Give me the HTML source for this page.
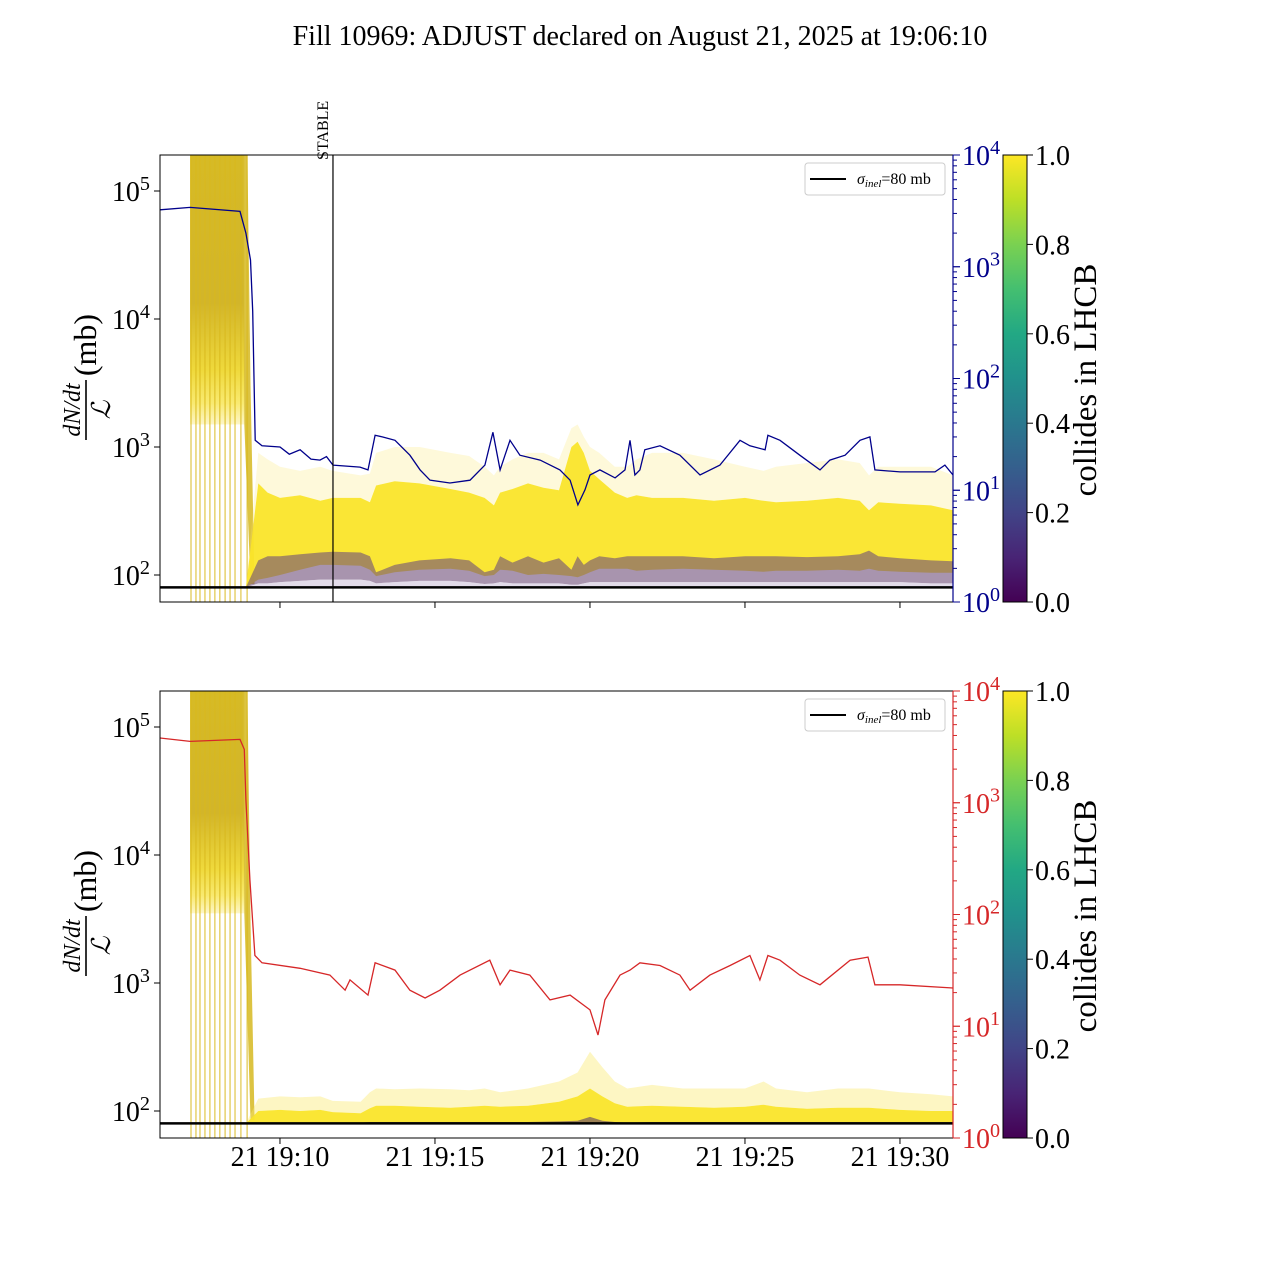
<!DOCTYPE html>
<html><head><meta charset="utf-8"><style>
html,body{margin:0;padding:0;background:#fff;}
svg{display:block;font-family:"Liberation Serif",serif;}
</style></head><body>
<svg id="fig" width="1280" height="1280" viewBox="0 0 1280 1280" xmlns="http://www.w3.org/2000/svg">
<defs>
<linearGradient id="viridis" x1="0" y1="1" x2="0" y2="0">
<stop offset="0" stop-color="#440154"/><stop offset="0.1" stop-color="#482475"/><stop offset="0.2" stop-color="#414487"/><stop offset="0.3" stop-color="#355f8d"/><stop offset="0.4" stop-color="#2a788e"/><stop offset="0.5" stop-color="#21918c"/><stop offset="0.6" stop-color="#22a884"/><stop offset="0.7" stop-color="#44bf70"/><stop offset="0.8" stop-color="#7ad151"/><stop offset="0.9" stop-color="#bddf26"/><stop offset="1" stop-color="#fde725"/>
</linearGradient>
<linearGradient id="preTop" x1="0" y1="0" x2="0" y2="1">
<stop offset="0" stop-color="#d6ba26"/><stop offset="0.55" stop-color="#d2b52a"/><stop offset="0.8" stop-color="#efd93c"/><stop offset="0.92" stop-color="#f9ea70"/><stop offset="1" stop-color="#fdf6c8"/>
</linearGradient>
<clipPath id="clipTop"><rect x="160" y="155" width="793" height="447"/></clipPath>
<clipPath id="clipBot"><rect x="160" y="691" width="793" height="447"/></clipPath>
</defs>
<text x="640" y="45" text-anchor="middle" font-size="28">Fill 10969: ADJUST declared on August 21, 2025 at 19:06:10</text>
</svg>
<script>
// ---- data (time in minutes after 19:00) ----
const xTickMinutes = [10, 15, 20, 25, 30];
const xTickLabels = ["21 19:10", "21 19:15", "21 19:20", "21 19:25", "21 19:30"];
const leftTickExps = [2, 3, 4, 5];
const rightTickExps = [0, 1, 2, 3, 4];
const cbarTicks = [0.0, 0.2, 0.4, 0.6, 0.8, 1.0];
const sigmaInel = 80;
const stableMinute = 11.71;
const fillLineMinutes = [7.13, 7.29, 7.42, 7.58, 7.74, 7.9, 8.06, 8.23, 8.39, 8.55, 8.74, 8.94];

const blueT = [6.13,7.1,8.71,8.9,9.05,9.12,9.2,9.42,10,10.3,10.65,11.0,11.29,11.5,11.71,12.58,12.84,13.07,13.3,13.71,14.19,14.52,14.84,15.48,16.13,16.61,16.87,17.1,17.26,17.42,17.74,18.39,19.03,19.36,19.61,19.84,20,20.32,20.81,21.13,21.29,21.45,21.61,21.77,22.26,22.9,23.55,24.19,24.84,25.16,25.65,25.74,26.13,26.77,27.42,27.74,28.23,28.71,29.03,29.19,30,31.13,31.45,31.71];
const blueV = [3230,3400,3130,2000,1150,400,28,25,24.4,21,23,19,18.6,20,16.8,16.1,15.2,31,30,28,20.6,15.2,12.3,11.6,12.3,16.8,33,15.2,20.6,28,20.6,18.6,15.2,12.3,7.4,10.1,13.7,15.2,12.9,15.2,28,13.7,15.2,23,25,20.6,13.7,16.8,28,25,23,31,28,20.6,15.2,18.6,20.6,28,30,15.2,14.6,14.6,16.8,13.7];

const redT = [6.13,7.1,8.71,8.85,8.9,9.03,9.19,9.42,10.65,11.61,12.1,12.26,12.84,13.07,13.71,14.19,14.68,15.16,15.81,16.77,17.1,17.42,18.06,18.71,19.36,20,20.26,20.48,20.97,21.29,21.61,22.26,22.9,23.23,23.87,24.52,25.16,25.48,25.74,26.13,26.77,27.42,28.39,28.97,29.19,30,31.71];
const redV = [3800,3540,3690,3000,1060,205,43,37,33,28.7,21,26,19,37,31.8,21,17.9,21,28.7,39,23.5,31.8,28.7,17.2,19,14,8.35,17.2,28.7,31.8,37,35,28.7,21,28.7,35,43,26,43,39,28.7,23.5,39,41.6,23.5,23.5,22];

// top panel band envelopes (mb)
const bandT    = [8.9,9.3,9.6,10.0,10.65,11.3,11.7,12.6,12.9,13.1,13.7,14.5,15.5,16.1,16.6,16.9,17.1,17.5,18.0,18.5,19.0,19.4,19.6,19.8,20.0,20.3,20.8,21.2,21.5,22.0,23.0,24.0,25.0,25.6,26.0,27.0,28.0,28.7,29.0,29.3,30.0,31.0,31.71];
const faintTop = [80,900,800,700,650,700,650,600,620,900,1000,1000,900,850,700,600,700,800,900,900,800,1400,1500,1200,1000,900,700,700,800,900,900,800,700,650,700,750,800,750,600,700,700,700,600];
const denseTop = [80,520,440,400,420,380,400,400,370,500,540,520,470,440,400,350,440,470,520,480,460,1000,1100,900,650,560,440,400,420,400,400,380,400,380,370,380,400,380,320,370,360,350,320];
const denseBot = [80,92,95,100,110,120,120,118,110,98,105,110,112,108,98,100,110,108,100,102,100,98,96,100,105,112,112,112,108,110,112,110,108,106,108,108,110,108,112,108,106,104,104];
const darkTop  = [80,130,140,140,145,150,152,150,140,105,120,130,135,130,105,110,140,125,140,125,135,110,140,120,130,140,135,140,140,140,140,135,140,140,140,138,140,145,155,140,135,130,128];
const darkBot  = [80,86,86,88,90,92,92,92,90,86,88,90,90,88,85,86,88,86,86,86,86,84,84,86,88,88,88,88,88,88,88,88,88,88,88,88,88,88,88,88,88,86,86];

// bottom panel band envelopes (mb)
const bBandT    = [8.9,9.3,10.0,10.65,11.3,11.7,12.6,12.9,13.1,13.7,14.5,15.5,16.1,16.6,17.1,18.0,19.0,19.6,20.0,20.4,20.8,21.2,22.0,23.0,24.0,25.0,25.6,26.0,27.0,28.0,29.0,30.0,31.0,31.71];
const bFaintTop = [80,125,130,128,130,120,118,140,150,148,150,148,145,150,140,150,170,200,290,220,170,150,160,150,150,150,170,150,140,150,150,140,135,130];
const bDenseTop = [80,100,102,100,102,98,96,105,110,110,108,106,108,110,108,110,118,130,150,130,115,108,110,108,106,108,112,108,104,106,106,102,100,100];
const bDarkTop  = [80,81,81,81,81,81,81,82,82,82,82,82,82,82,82,82,83,84,90,84,82,81,82,82,82,82,82,82,82,82,82,82,82,82];

// ---- scales ----
const X0 = 160, X1 = 953;
const xS = t => X0 + (t - 6.13) * 31.0;
function panel(top){
  const bot = top + 447;
  return {top, bot,
    yL: v => (top + 36) + (5 - Math.log10(v)) * 128,
    yR: v => bot - Math.log10(v) * 111.75};
}
const P1 = panel(155), P2 = panel(691);
const NS = "http://www.w3.org/2000/svg";
const svg = document.getElementById('fig');
function mk(tag, attrs, parent){
  const e = document.createElementNS(NS, tag);
  for (const k in attrs) e.setAttribute(k, attrs[k]);
  (parent || svg).appendChild(e);
  return e;
}
function bandPath(T, up, lo, yf){
  let d = '';
  T.forEach((t,i)=>{ d += (i? 'L':'M') + xS(t).toFixed(1) + ',' + yf(up[i]).toFixed(1); });
  for (let i = T.length-1; i >= 0; i--) d += 'L' + xS(T[i]).toFixed(1) + ',' + yf(lo[i]).toFixed(1);
  return d + 'Z';
}
function linePath(T, V, yf){
  return T.map((t,i)=>(i?'L':'M') + xS(t).toFixed(1) + ',' + yf(V[i]).toFixed(1)).join('');
}
function supNum(g, x, y, base, exp, size, color, anchor, name){
  const t = mk('text', {x, y, 'font-size': size, fill: color, 'text-anchor': anchor}, g);
  
  
  const a = document.createElementNS(NS,'tspan'); a.textContent = base; t.appendChild(a);
  const b = document.createElementNS(NS,'tspan'); b.setAttribute('dy', -size*0.4); b.setAttribute('font-size', size*0.72); b.textContent = exp; t.appendChild(b);
}

function drawPanel(P, idx, rightColor, rT, rV, isTop){
  const g = mk('g', {});
  
  
  const clip = mk('g', {'clip-path': isTop ? 'url(#clipTop)' : 'url(#clipBot)'}, g);
  // pre-adjust dense block
  const preBottom = isTop ? 1500 : 3500;
  const pre = mk('rect', {x: xS(7.10), y: P.top, width: xS(8.85)-xS(7.10), height: P.yL(preBottom)-P.top, fill: 'url(#preTop)'}, clip);
  
  
  const drop = mk('path', {d: 'M'+xS(8.8)+','+P.top+'L'+xS(8.95)+','+P.top+'L'+xS(9.05)+','+P.yL(3000)+'L'+xS(9.18)+','+P.yL(85)+'L'+xS(9.05)+','+P.yL(85)+'L'+xS(8.85)+','+P.yL(preBottom)+'Z', fill: '#d8bd2c', opacity: 0.9}, clip);
  
  
  fillLineMinutes.forEach((m,i)=>{
    const l = mk('line', {x1: xS(m), x2: xS(m), y1: P.top, y2: P.bot, stroke: '#d9b91c', 'stroke-width': 1.2, opacity: 0.8}, clip);
    
    
  });
  if (isTop){
    const f = mk('path', {d: bandPath(bandT, faintTop, denseTop, P.yL), fill: '#fbe86a', opacity: 0.25}, clip);
    
    
    const d = mk('path', {d: bandPath(bandT, denseTop, denseBot, P.yL), fill: '#fae52a', opacity: 0.95}, clip);
    
    
    const k = mk('path', {d: bandPath(bandT, darkTop, darkBot, P.yL), fill: '#6e4d78', opacity: 0.6}, clip);
    
    
    const w = mk('path', {d: bandPath(bandT, darkBot, bandT.map(()=>sigmaInel), P.yL), fill: '#cfc3da', opacity: 0.6}, clip);
    
    
  } else {
    const f = mk('path', {d: bandPath(bBandT, bFaintTop, bDenseTop, P.yL), fill: '#fbe86a', opacity: 0.4}, clip);
    
    
    const d = mk('path', {d: bandPath(bBandT, bDenseTop, bBandT.map(()=>sigmaInel), P.yL), fill: '#fae52a', opacity: 0.95}, clip);
    
    
    const k = mk('path', {d: bandPath(bBandT, bDarkTop, bBandT.map(()=>sigmaInel), P.yL), fill: '#5a3a6a', opacity: 0.6}, clip);
    
    
  }
  // sigma line
  const s = mk('line', {x1: X0, x2: X1, y1: P.yL(sigmaInel), y2: P.yL(sigmaInel), stroke: '#000', 'stroke-width': 2.5}, g);
  
  
  // right series
  const r = mk('path', {d: linePath(rT, rV, P.yR), fill: 'none', stroke: rightColor, 'stroke-width': 1.3}, clip);
  
  
  if (isTop){
    const st = mk('line', {x1: xS(stableMinute), x2: xS(stableMinute), y1: P.top, y2: P.bot, stroke: '#000', 'stroke-width': 1.2}, g);
    
    
    const tx = mk('text', {x: 0, y: 0, 'font-size': 16, transform: 'translate(' + (xS(stableMinute)-5) + ',' + (P.top+5) + ') rotate(-90)'}, g);
    tx.textContent = 'STABLE';
    
    
  }
  // spines
  const fr = mk('path', {d: 'M'+X1+','+P.top+'L'+X0+','+P.top+'L'+X0+','+P.bot+'L'+X1+','+P.bot, fill: 'none', stroke: '#000', 'stroke-width': 1}, g);
  
  
  const rs = mk('line', {x1: X1, x2: X1, y1: P.top, y2: P.bot, stroke: rightColor, 'stroke-width': 1.2}, g);
  
  
  // left ticks (major only)
  leftTickExps.forEach(e=>{
    const y = P.yL(Math.pow(10,e));
    mk('line', {x1: X0-6, x2: X0, y1: y, y2: y, stroke: '#000', 'stroke-width': 1}, g);
    supNum(g, 150, y + 10, '10', String(e), 28, '#000', 'end', 'left-tick-label');
  });
  // right ticks
  for (let e = 0; e < 4; e++){
    for (let m = 1; m <= 10; m++){
      const y = P.yR(m*Math.pow(10,e));
      mk('line', {x1: X1, x2: X1+(m===1||m===10?7:4), y1: y, y2: y, stroke: rightColor, 'stroke-width': 1}, g);
    }
  }
  rightTickExps.forEach(e=>{
    supNum(g, 962, P.yR(Math.pow(10,e)) + 10, '10', String(e), 28, rightColor, 'start', 'right-tick-label');
  });
  // x ticks
  xTickMinutes.forEach((m,i)=>{
    mk('line', {x1: xS(m), x2: xS(m), y1: P.bot, y2: P.bot+6, stroke: '#000', 'stroke-width': 1}, g);
    if (!isTop){
      const t = mk('text', {x: xS(m), y: P.bot + 28, 'font-size': 28, 'text-anchor': 'middle'}, g);
      t.textContent = xTickLabels[i];
      
      
    }
  });
  // y label
  const yl = mk('g', {transform: 'translate(86,' + (P.top + 225) + ') rotate(-90)'}, g);
  
  
  const n = mk('text', {x: -30, y: -6, 'font-size': 24, 'font-style': 'italic', 'text-anchor': 'middle'}, yl); n.textContent = 'dN/dt';
  mk('line', {x1: -60, x2: 0, y1: 0, y2: 0, stroke: '#000', 'stroke-width': 1.6}, yl);
  const dd = mk('text', {x: -30, y: 24, 'font-size': 26, 'font-style': 'italic', 'text-anchor': 'middle'}, yl); dd.textContent = 'ℒ';
  const mb = mk('text', {x: 35, y: 10, 'font-size': 32, 'text-anchor': 'middle'}, yl); mb.textContent = '(mb)';
  // legend
  const lg = mk('g', {}, g);
  
  
  mk('rect', {x: 805, y: P.top+8, width: 140, height: 32, rx: 3, fill: '#fff', stroke: '#ccc', 'stroke-width': 1}, lg);
  mk('line', {x1: 810, x2: 846, y1: P.top+24, y2: P.top+24, stroke: '#000', 'stroke-width': 2}, lg);
  const lt = mk('text', {x: 857, y: P.top+29, 'font-size': 16}, lg);
  const s1 = document.createElementNS(NS,'tspan'); s1.setAttribute('font-style','italic'); s1.textContent='σ'; lt.appendChild(s1);
  const s2 = document.createElementNS(NS,'tspan'); s2.setAttribute('font-style','italic'); s2.setAttribute('font-size','11'); s2.setAttribute('dy','3'); s2.textContent='inel'; lt.appendChild(s2);
  const s3 = document.createElementNS(NS,'tspan'); s3.setAttribute('dy','-3'); s3.textContent='=80 mb'; lt.appendChild(s3);
  // colorbar
  const cb = mk('g', {}, g);
  
  
  mk('rect', {x: 1003, y: P.top, width: 24, height: 447, fill: 'url(#viridis)', stroke: '#000', 'stroke-width': 1}, cb);
  cbarTicks.forEach(v=>{
    const y = P.bot - v * 447;
    mk('line', {x1: 1027, x2: 1033, y1: y, y2: y, stroke: '#000', 'stroke-width': 1}, cb);
    const t = mk('text', {x: 1035, y: y + 10, 'font-size': 28}, cb);
    t.textContent = v.toFixed(1);
    
    
  });
  const ct = mk('text', {x: 0, y: 0, 'font-size': 33, 'text-anchor': 'middle', transform: 'translate(1096,' + (P.top + 225) + ') rotate(-90)'}, cb);
  ct.textContent = 'collides in LHCB';
  
  
}
drawPanel(P1, 1, '#00008b', blueT, blueV, true);
drawPanel(P2, 2, '#d62728', redT, redV, false);
</script>
</body></html>
